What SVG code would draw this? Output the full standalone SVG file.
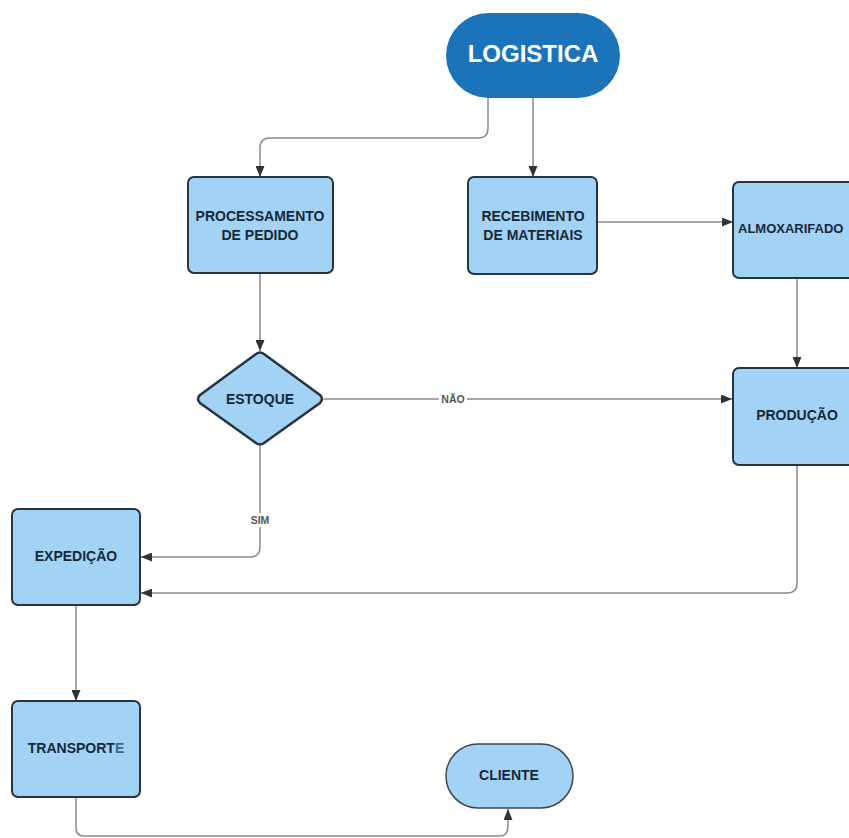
<svg xmlns="http://www.w3.org/2000/svg" width="849" height="838" viewBox="0 0 849 838">
<style>
.box{fill:#a2d3f4;stroke:#263442;stroke-width:2}
.t{font-family:"Liberation Sans",Arial,sans-serif;font-weight:bold;font-size:14px;fill:#17283a;text-anchor:middle;dominant-baseline:central}
.c{fill:none;stroke:#8a8a8a;stroke-width:1.5}
.lbl{font-family:"Liberation Sans",Arial,sans-serif;font-weight:bold;font-size:10.5px;fill:#555;text-anchor:middle;dominant-baseline:central}
</style>
<defs>
<marker id="ah" markerWidth="11" markerHeight="9" refX="11" refY="4.5" orient="auto" markerUnits="userSpaceOnUse">
<path d="M0,0 L11,4.5 L0,9 Z" fill="#333"/>
</marker>
</defs>
<rect width="849" height="838" fill="#fff"/>
<g id="connectors">
<path class="c" d="M488 98 V128 Q488 138 478 138 H270 Q260 138 260 148 V177" marker-end="url(#ah)"/>
<path class="c" d="M533 98 V177" marker-end="url(#ah)"/>
<path class="c" d="M597 222 H733" marker-end="url(#ah)"/>
<path class="c" d="M797 278 V368" marker-end="url(#ah)"/>
<path class="c" d="M260 273 V351" marker-end="url(#ah)"/>
<path class="c" d="M324 399 H732" marker-end="url(#ah)"/>
<path class="c" d="M260 446 V547 Q260 557 250 557 H141" marker-end="url(#ah)"/>
<path class="c" d="M797 465 V583 Q797 593 787 593 H141" marker-end="url(#ah)"/>
<path class="c" d="M76 605 V701" marker-end="url(#ah)"/>
<path class="c" d="M76 797 V828 Q76 836 84 836 H500 Q508 836 508 826 V809" marker-end="url(#ah)"/>
<rect x="439" y="392" width="28" height="14" fill="#fff"/>
<text class="lbl" x="453" y="399">NÃO</text>
<rect x="247" y="513" width="26" height="14" fill="#fff"/>
<text class="lbl" x="260" y="520">SIM</text>
</g>
<g id="logistica">
<rect x="446" y="13" width="174" height="85" rx="42.5" fill="#1b74ba"/>
<text x="533" y="53" font-family="Liberation Sans,Arial,sans-serif" font-weight="bold" font-size="24" fill="#fff" text-anchor="middle" dominant-baseline="central">LOGISTICA</text>
</g>
<g id="processamento">
<rect class="box" x="188" y="177" width="145" height="96" rx="6"/>
<text class="t" x="260" y="216">PROCESSAMENTO</text>
<text class="t" x="260" y="235">DE PEDIDO</text>
</g>
<g id="recebimento">
<rect class="box" x="468" y="177" width="129" height="97" rx="6"/>
<text class="t" x="533" y="216">RECEBIMENTO</text>
<text class="t" x="533" y="235">DE MATERIAIS</text>
</g>
<g id="almoxarifado">
<rect class="box" x="733" y="182" width="130" height="96" rx="6"/>
<text class="t" x="738" y="228" style="text-anchor:start;font-size:13px">ALMOXARIFADO</text>
</g>
<g id="estoque">
<path class="box" d="M256 354 Q260 351 264 354 L320 395 Q324 399 320 403 L264 443 Q260 446 256 443 L200 403 Q196 399 200 395 Z" style="stroke-width:2.5;stroke-linejoin:round"/>
<text class="t" x="260" y="399">ESTOQUE</text>
</g>
<g id="producao">
<rect class="box" x="733" y="368" width="130" height="97" rx="6"/>
<text class="t" x="797" y="415">PRODUÇÃO</text>
</g>
<g id="expedicao">
<rect class="box" x="12" y="509" width="128" height="96" rx="6"/>
<text class="t" x="76" y="556">EXPEDIÇÃO</text>
</g>
<g id="transporte">
<rect class="box" x="12" y="701" width="128" height="96" rx="6"/>
<text class="t" x="76" y="748">TRANSPORT<tspan fill="#4a6378">E</tspan></text>
</g>
<g id="cliente">
<rect x="446" y="744" width="127" height="64" rx="32" fill="#a2d3f4" stroke="#3a4550" stroke-width="1.5"/>
<text class="t" x="509" y="775">CLIENTE</text>
</g>
</svg>
